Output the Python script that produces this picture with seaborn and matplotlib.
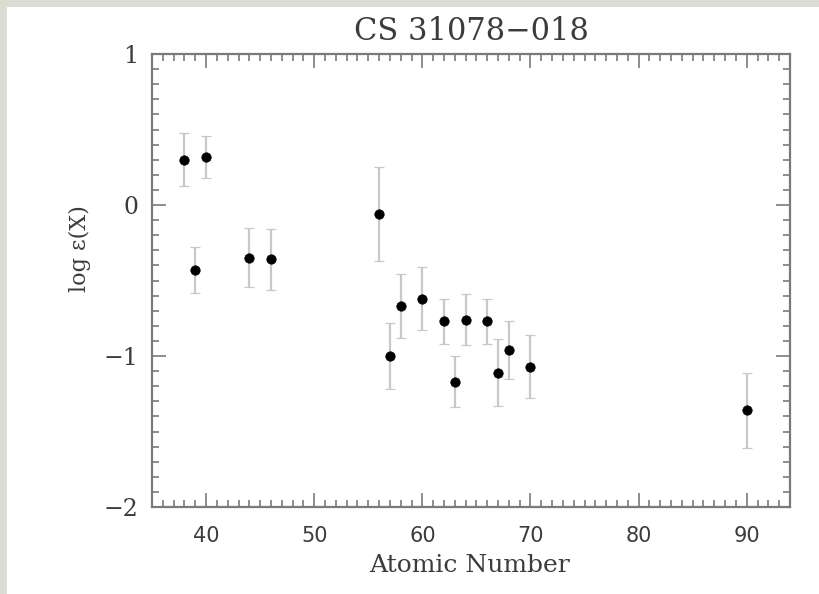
import matplotlib
matplotlib.use("Agg")
import matplotlib.pyplot as plt
from matplotlib.patches import Rectangle
from matplotlib.ticker import MultipleLocator
import numpy as np
import pandas as pd
import seaborn as sns

# Neutron-capture element abundances for CS 31078-018
atomic_number = [38, 39, 40, 44, 46, 56, 57, 58, 60, 62, 63, 64, 66, 67, 68, 70, 90]
log_eps = [0.30, -0.43, 0.32, -0.35, -0.36, -0.06, -1.00, -0.67, -0.62, -0.77,
           -1.17, -0.76, -0.77, -1.11, -0.96, -1.07, -1.36]
log_eps_err = [0.175, 0.155, 0.14, 0.195, 0.20, 0.31, 0.22, 0.21, 0.21, 0.15,
               0.17, 0.17, 0.15, 0.22, 0.195, 0.21, 0.25]

x_ticks = [40, 50, 60, 70, 80, 90]
y_ticks = [-2, -1, 0, 1]

df = pd.DataFrame({"Z": atomic_number, "logeps": log_eps, "err": log_eps_err})

sns.set_style("ticks")
plt.rcParams["font.family"] = ["DejaVu Serif", "Liberation Serif"]

fig = plt.figure(figsize=(8.2, 5.94), dpi=100)
fig.patch.set_facecolor("white")

# thin grey border along the top and left edges
W, H = 820, 594
fig.patches.append(Rectangle((0, 0), 7 / W, 1, transform=fig.transFigure,
                             facecolor="#dcdcd4", edgecolor="none", zorder=0))
fig.patches.append(Rectangle((0, 1 - 7 / H), 1, 7 / H, transform=fig.transFigure,
                             facecolor="#dcdcd4", edgecolor="none", zorder=0))

ax = fig.add_axes([152 / W, 1 - 507 / H, (790 - 152) / W, (507 - 54) / H])

ax.errorbar(df["Z"], df["logeps"], yerr=df["err"], fmt="none",
            ecolor="#c8c8c8", elinewidth=1.6, capsize=3.5, capthick=0.9, zorder=2)
sns.scatterplot(data=df, x="Z", y="logeps", ax=ax, color="black", s=46,
                edgecolor="black", linewidth=0.5, zorder=3)

ax.set_xlim(35, 94)
ax.set_ylim(-2, 1)
ax.set_xticks(x_ticks)
ax.set_yticks(y_ticks)
ax.xaxis.set_minor_locator(MultipleLocator(1))
ax.yaxis.set_minor_locator(MultipleLocator(0.1))

axis_col = "#7a7a7a"
text_col = "#3c3c3c"
for sp in ax.spines.values():
    sp.set_visible(True)
    sp.set_color(axis_col)
    sp.set_linewidth(1.6)

ax.tick_params(which="both", direction="in", top=True, right=True,
               color=axis_col, width=1.2)
ax.tick_params(which="major", length=10)
ax.tick_params(which="minor", length=5)
ax.tick_params(axis="x", which="major", pad=14, labelcolor=text_col)
ax.tick_params(axis="y", which="major", pad=10, labelsize=17, labelcolor=text_col)
for lab in ax.get_xticklabels():
    lab.set_family(["DejaVu Sans"])
    lab.set_fontsize(15)

ax.set_xlabel("")
ax.set_ylabel("")
fig.text(470 / W, 1 - 566 / H, "Atomic Number", ha="center", va="center",
         fontsize=18, color=text_col)
fig.text(80 / W, 1 - 249 / H, "log \u03b5(X)", ha="center", va="center",
         rotation=90, fontsize=16, color=text_col)
fig.text(471 / W, 1 - 32 / H, "CS 31078\u2212018", ha="center", va="center",
         fontsize=22, color=text_col)

fig.savefig("out.png", dpi=100, facecolor=fig.get_facecolor())
